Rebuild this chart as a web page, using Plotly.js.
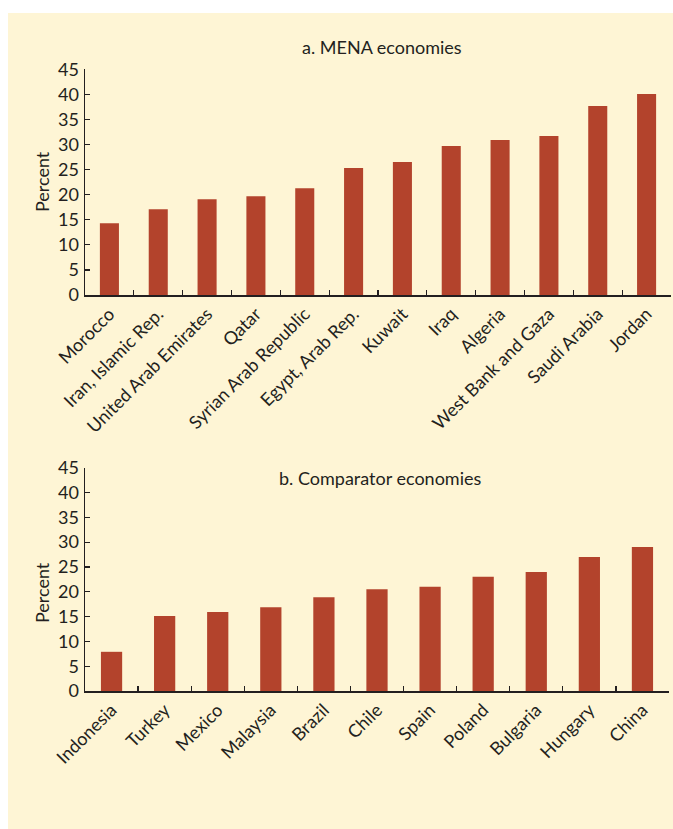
<!DOCTYPE html>
<html>
<head>
<meta charset="utf-8">
<script src="https://cdn.plot.ly/plotly-3.0.1.min.js"></script>
<style>html,body{margin:0;padding:0;background:#fff;}#chart{width:673px;height:829px;}</style>
</head>
<body>
<div id="chart"></div>
<script>
const menaCountries = ["Morocco", "Iran, Islamic Rep.", "United Arab Emirates", "Qatar", "Syrian Arab Republic", "Egypt, Arab Rep.", "Kuwait", "Iraq", "Algeria", "West Bank and Gaza", "Saudi Arabia", "Jordan"];
const menaValues = [14.3, 17.1, 19.1, 19.7, 21.3, 25.3, 26.5, 29.7, 30.9, 31.7, 37.7, 40.1];
const compCountries = ["Indonesia", "Turkey", "Mexico", "Malaysia", "Brazil", "Chile", "Spain", "Poland", "Bulgaria", "Hungary", "China"];
const compValues = [7.9, 15.1, 15.9, 16.9, 18.9, 20.5, 21.0, 23.0, 24.0, 27.0, 29.0];
const yTicks = [0, 5, 10, 15, 20, 25, 30, 35, 40, 45];
const titleA = "a. MENA economies";
const titleB = "b. Comparator economies";
const yTitle = "Percent";

const W = 673, H = 829;
const FONT = "Lato, 'Open Sans', sans-serif";
const TXT = "#231f20";
const BAR = "#b3432c";
const BG = "#fef5d5";

const px = v => v / W;
const py = v => 1 - v / H;

const traces = [
  {type: "bar", x: menaCountries, y: menaValues, xaxis: "x", yaxis: "y", marker: {color: BAR}, width: 0.39, hoverinfo: "x+y"},
  {type: "bar", x: compCountries, y: compValues, xaxis: "x2", yaxis: "y2", marker: {color: BAR}, width: 0.4, hoverinfo: "x+y"}
];

const xCommon = {
  type: "category", showline: true, linecolor: TXT, linewidth: 1.5,
  ticks: "inside", ticklen: 5, tickwidth: 1.2, tickcolor: TXT, tickson: "boundaries",
  tickangle: -45, tickfont: {family: FONT, size: 18, color: TXT},
  showgrid: false, zeroline: false, fixedrange: true
};
const yCommon = {
  range: [0, 45], tickvals: yTicks, ticktext: yTicks.map(String),
  showline: true, linecolor: TXT, linewidth: 1.5,
  ticks: "inside", ticklen: 5, tickwidth: 1.2, tickcolor: TXT,
  tickfont: {family: FONT, size: 18, color: TXT}, ticklabelstandoff: 1,
  showgrid: false, zeroline: false, fixedrange: true
};

const layout = {
  width: W, height: H,
  margin: {l: 0, r: 0, t: 0, b: 0},
  paper_bgcolor: "#ffffff",
  plot_bgcolor: "rgba(0,0,0,0)",
  showlegend: false,
  bargap: 0.6,
  font: {family: FONT, color: TXT},
  xaxis: Object.assign({}, xCommon, {domain: [px(85), px(671)], anchor: "y", range: [-0.5, 11.5]}),
  yaxis: Object.assign({}, yCommon, {domain: [py(295), py(69.3)], anchor: "x"}),
  xaxis2: Object.assign({}, xCommon, {domain: [px(85), px(669)], anchor: "y2", range: [-0.5, 10.5]}),
  yaxis2: Object.assign({}, yCommon, {domain: [py(691), py(467.7)], anchor: "x2"}),
  shapes: [
    {type: "rect", xref: "paper", yref: "paper", x0: px(8), x1: 1, y0: 0, y1: py(13), fillcolor: BG, line: {width: 0}, layer: "below"}
  ],
  annotations: [
    {text: titleA, xref: "paper", yref: "paper", x: px(382), y: py(47), xanchor: "center", yanchor: "middle", showarrow: false, font: {family: FONT, size: 18, color: TXT}},
    {text: titleB, xref: "paper", yref: "paper", x: px(380), y: py(478), xanchor: "center", yanchor: "middle", showarrow: false, font: {family: FONT, size: 18, color: TXT}},
    {text: yTitle, xref: "paper", yref: "paper", x: px(42), y: py(182), xanchor: "center", yanchor: "middle", textangle: -90, showarrow: false, font: {family: FONT, size: 18, color: TXT}},
    {text: yTitle, xref: "paper", yref: "paper", x: px(42), y: py(593), xanchor: "center", yanchor: "middle", textangle: -90, showarrow: false, font: {family: FONT, size: 18, color: TXT}}
  ]
};

Plotly.newPlot("chart", traces, layout, {displayModeBar: false, staticPlot: true});
</script>
</body>
</html>
